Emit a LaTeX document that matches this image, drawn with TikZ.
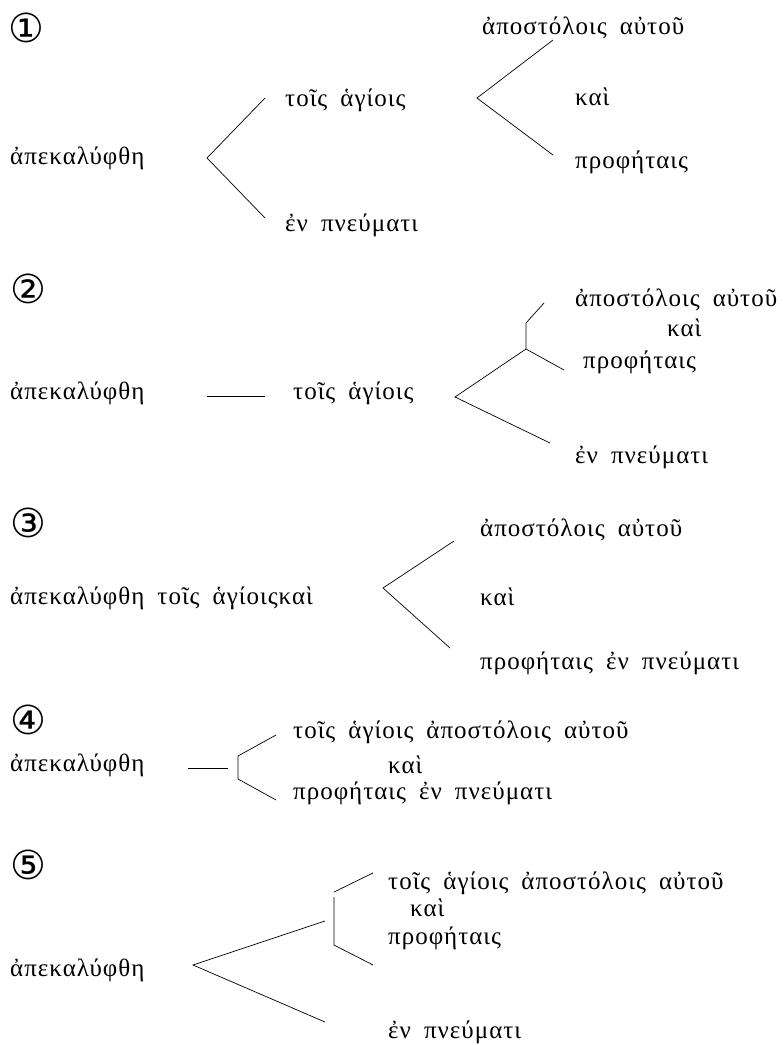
\documentclass[tikz,border=0pt]{standalone}
\usepackage{fontspec}
\setmainfont[LetterSpace=4,WordSpace=1.8]{Liberation Serif}
\newfontfamily\circfont{DejaVu Sans}
\usetikzlibrary{positioning}

\begin{document}
\begin{tikzpicture}[x=1pt,y=-1pt,
word/.style={anchor=west, inner sep=0pt, font=\fontsize{25}{28}\selectfont},
num/.style={inner sep=0pt, font=\circfont\fontsize{40}{42}\selectfont},
branch/.style={line width=0.7pt}
]
\useasboundingbox (0,0) rectangle (784,1045);

% reading 1
\node[num] (n1) at (26,28) {①};
\node[word] (a1) at (10,158) {ἀπεκαλύφθη};
\node[word] (t1) at (285,100) {τοῖς ἁγίοις};
\node[word] (e1) at (285,225) {ἐν πνεύματι};
\node[word] (ap1) at (482,28) {ἀποστόλοις αὐτοῦ};
\node[word] (k1) at (575,97) {καὶ};
\node[word] (p1) at (575,162) {προφήταις};
\coordinate (v1) at (207,158);
\coordinate (v1u) at (265,98);
\coordinate (v1d) at (265,218);
\coordinate (w1) at (477,98);
\coordinate (w1u) at (553,40);
\coordinate (w1d) at (553,155);
\draw[branch] (v1u) -- (v1) -- (v1d);
\draw[branch] (w1u) -- (w1) -- (w1d);

% reading 2
\node[num] (n2) at (28,289) {②};
\node[word] (a2) at (10,393) {ἀπεκαλύφθη};
\node[word] (t2) at (293,393) {τοῖς ἁγίοις};
\node[word] (ap2) at (575,300) {ἀποστόλοις αὐτοῦ};
\node[word] (k2) at (667,328) {καὶ};
\node[word] (p2) at (583,362) {προφήταις};
\node[word] (e2) at (575,457) {ἐν πνεύματι};
\coordinate (h2l) at (207,396);
\coordinate (h2r) at (265,396);
\coordinate (v2) at (455,397);
\coordinate (j2) at (526,349);
\coordinate (j2t) at (526,323);
\coordinate (j2u) at (544,303);
\coordinate (j2d) at (564,370);
\coordinate (v2d) at (550,443);
\draw[branch] (h2l) -- (h2r);
\draw[branch] (j2) -- (v2) -- (v2d);
\draw[branch] (j2u) -- (j2t) -- (j2) -- (j2d);

% reading 3
\node[num] (n3) at (28,523) {③};
\node[word] (a3) at (10,598) {ἀπεκαλύφθη τοῖς ἁγίοιςκαὶ};
\node[word] (ap3) at (480,530) {ἀποστόλοις αὐτοῦ};
\node[word] (k3) at (480,597) {καὶ};
\node[word] (p3) at (480,663) {προφήταις ἐν πνεύματι};
\coordinate (v3) at (383,588);
\coordinate (v3u) at (454,541);
\coordinate (v3d) at (450,648);
\draw[branch] (v3u) -- (v3) -- (v3d);

% reading 4
\node[num] (n4) at (28,720) {④};
\node[word] (a4) at (10,765) {ἀπεκαλύφθη};
\node[word] (t4) at (293,732) {τοῖς ἁγίοις ἀποστόλοις αὐτοῦ};
\node[word] (k4) at (388,765) {καὶ};
\node[word] (p4) at (293,793) {προφήταις ἐν πνεύματι};
\coordinate (h4l) at (188,768);
\coordinate (h4r) at (228,768);
\coordinate (b4u) at (238,756);
\coordinate (b4d) at (238,779);
\coordinate (b4ue) at (276,735);
\coordinate (b4de) at (276,800);
\draw[branch] (h4l) -- (h4r);
\draw[branch] (b4ue) -- (b4u) -- (b4d) -- (b4de);

% reading 5
\node[num] (n5) at (28,865) {⑤};
\node[word] (a5) at (10,970) {ἀπεκαλύφθη};
\node[word] (t5) at (388,883) {τοῖς ἁγίοις ἀποστόλοις αὐτοῦ};
\node[word] (k5) at (410,908) {καὶ};
\node[word] (p5) at (388,938) {προφήταις};
\node[word] (e5) at (388,1032) {ἐν πνεύματι};
\coordinate (v5) at (193,965);
\coordinate (v5u) at (325,921);
\coordinate (v5d) at (325,1022);
\coordinate (b5u) at (334,892);
\coordinate (b5ue) at (373,873);
\coordinate (b5t) at (334,897);
\coordinate (b5b) at (334,945);
\coordinate (b5de) at (373,965);
\draw[branch] (v5u) -- (v5) -- (v5d);
\draw[branch] (b5u) -- (b5ue);
\draw[branch] (b5t) -- (b5b) -- (b5de);
\end{tikzpicture}
\end{document}
